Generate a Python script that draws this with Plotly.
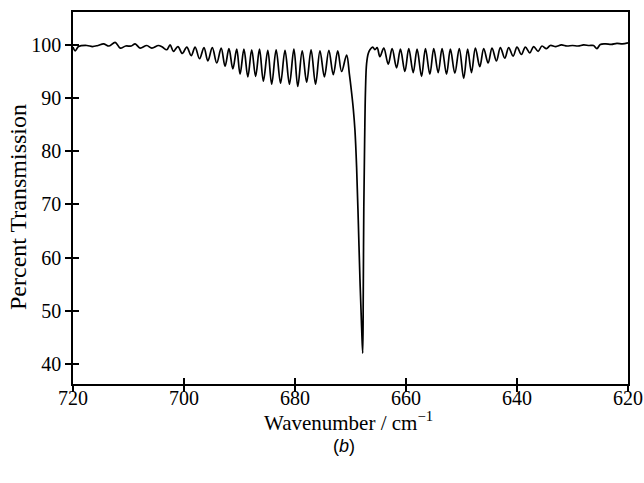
import plotly.graph_objects as go

# Spectrum (wavenumber in cm^-1, percent transmission)
wavenumber = [
    720.0, 719.6, 719.0, 717.5, 716.5, 715.5, 714.5, 713.5, 712.4, 711.5,
    710.5, 709.5, 708.8, 707.9, 706.7, 705.8, 704.6, 703.9, 703.1, 702.5,
    701.9, 701.1, 700.3, 699.5, 698.7, 698.0, 697.2, 696.4, 695.7, 694.9,
    694.1, 693.3, 692.6, 691.9, 691.2, 690.5, 689.9, 689.2, 688.5, 687.8,
    687.1, 686.4, 685.7, 684.9, 684.2, 683.4, 682.6, 681.8, 681.0, 680.2,
    679.5, 678.7, 677.9, 677.1, 676.3, 675.5, 674.7, 673.9, 673.1, 672.3,
    671.6, 670.7, 670.2, 669.8, 669.5, 669.2, 668.9, 668.6, 668.3, 668.0,
    667.8, 667.7, 667.6, 667.45, 667.3, 667.1, 666.8, 666.5,
    666.0, 665.6, 665.2, 664.7, 664.0, 663.2, 662.5, 661.7, 661.0, 660.2,
    659.5, 658.7, 658.0, 657.2, 656.5, 655.7, 655.0, 654.2, 653.5, 652.7,
    652.0, 651.2, 650.4, 649.6, 648.9, 648.2, 647.5, 646.7, 646.0, 645.2,
    644.5, 643.7, 643.0, 642.2, 641.5, 640.7, 640.0, 639.2, 638.5, 637.7,
    637.0, 636.2, 635.5, 634.7, 634.0, 633.0, 632.0, 631.0, 630.0, 629.0,
    628.0, 627.0, 626.2, 625.6, 625.0, 624.0, 623.0, 622.0, 621.0, 620.0,
]
transmission = [
    99.6, 98.9, 99.7, 99.9, 99.7, 99.9, 100.2, 99.8, 100.5, 99.4,
    99.8, 99.8, 100.2, 99.4, 99.9, 99.4, 99.9, 99.6, 99.1, 100.0,
    98.8, 99.7, 98.4, 99.6, 98.0, 99.6, 97.4, 99.5, 97.0, 99.5,
    96.6, 99.4, 96.0, 99.3, 95.5, 99.2, 94.5, 99.2, 94.0, 99.1,
    94.1, 99.2, 93.2, 99.0, 92.6, 99.1, 92.8, 99.0, 92.6, 99.2,
    92.2, 98.9, 93.0, 99.1, 92.6, 98.9, 94.0, 99.0, 94.4, 98.9,
    95.0, 98.1, 94.5, 91.0, 88.0, 84.0, 77.0, 67.0, 56.0, 47.0,
    42.0, 53.4, 69.6, 82.1, 91.5, 96.5, 98.4, 99.1,
    99.6, 99.1, 99.5, 97.8, 99.4, 96.4, 99.3, 95.7, 99.2, 95.0,
    99.3, 94.8, 99.2, 94.1, 99.3, 94.5, 99.3, 94.8, 99.3, 94.5,
    99.2, 94.7, 99.3, 93.7, 99.2, 94.8, 99.4, 95.9, 99.3, 96.6,
    99.4, 97.0, 99.5, 97.5, 99.5, 97.9, 99.6, 98.2, 99.6, 98.5,
    99.7, 98.8, 99.8, 99.3, 99.9, 99.7, 100.0, 99.8, 99.9, 99.8,
    100.0, 99.9, 99.9, 99.3, 100.1, 100.2, 100.1, 100.3, 100.2, 100.4,
]
x_ticks = [720, 700, 680, 660, 640, 620]
y_ticks = [40, 50, 60, 70, 80, 90, 100]
x_range = [720, 620]
y_range = [36.2, 106.2]

serif = "Liberation Serif, Times New Roman, serif"

fig = go.Figure()
fig.add_trace(go.Scatter(
    x=wavenumber, y=transmission, mode="lines",
    line=dict(color="black", width=1.7, shape="spline", smoothing=1.0),
    showlegend=False, hoverinfo="skip",
))
# helper trace so the overlaid (inside-tick) axes get drawn
fig.add_trace(go.Scatter(x=[x_ticks[0]], y=[y_ticks[-1]], xaxis="x2", yaxis="y2",
                         mode="markers", marker=dict(opacity=0), showlegend=False,
                         hoverinfo="skip"))

axis_common = dict(showgrid=False, zeroline=False, linecolor="black", linewidth=1.5,
                   tickcolor="black", tickwidth=1.5, automargin=False)

fig.update_layout(
    width=644, height=483,
    margin=dict(l=73, r=16, t=12, b=99),
    paper_bgcolor="white", plot_bgcolor="white",
    font=dict(family=serif, size=20, color="black"),
    xaxis=dict(range=x_range, tickvals=x_ticks, ticks="outside", ticklen=6,
               showline=True, mirror=True, ticklabelstandoff=-11,
               tickfont=dict(family=serif, size=20), **axis_common),
    yaxis=dict(range=y_range, tickvals=y_ticks, ticks="outside", ticklen=6,
               showline=True, mirror=True,
               tickfont=dict(family=serif, size=20), **axis_common),
    xaxis2=dict(range=x_range, tickvals=x_ticks, ticks="inside", ticklen=6,
                overlaying="x", anchor="y2", side="bottom", showticklabels=False,
                showline=False, **axis_common),
    yaxis2=dict(range=y_range, tickvals=y_ticks, ticks="inside", ticklen=6,
                overlaying="y", anchor="x2", side="left", showticklabels=False,
                showline=False, **axis_common),
    annotations=[
        dict(text="Wavenumber / cm<sup>\u22121</sup>", xref="paper", yref="paper",
             x=0.497, y=-0.1, xanchor="center", yanchor="middle", showarrow=False,
             font=dict(family=serif, size=21)),
        dict(text="Percent Transmission", xref="paper", yref="paper",
             x=-0.099, y=0.476, xanchor="center", yanchor="middle", textangle=-90,
             showarrow=False, font=dict(family=serif, size=24)),
        dict(text="(<i>b</i>)", xref="paper", yref="paper", x=0.488, y=-0.166,
             xanchor="center", yanchor="middle", showarrow=False,
             font=dict(family="Liberation Sans, Arial, sans-serif", size=18)),
    ],
)

fig.write_html("out.html", config={"displayModeBar": False},
               post_script="document.body.style.margin='0';document.body.style.overflow='hidden';")
